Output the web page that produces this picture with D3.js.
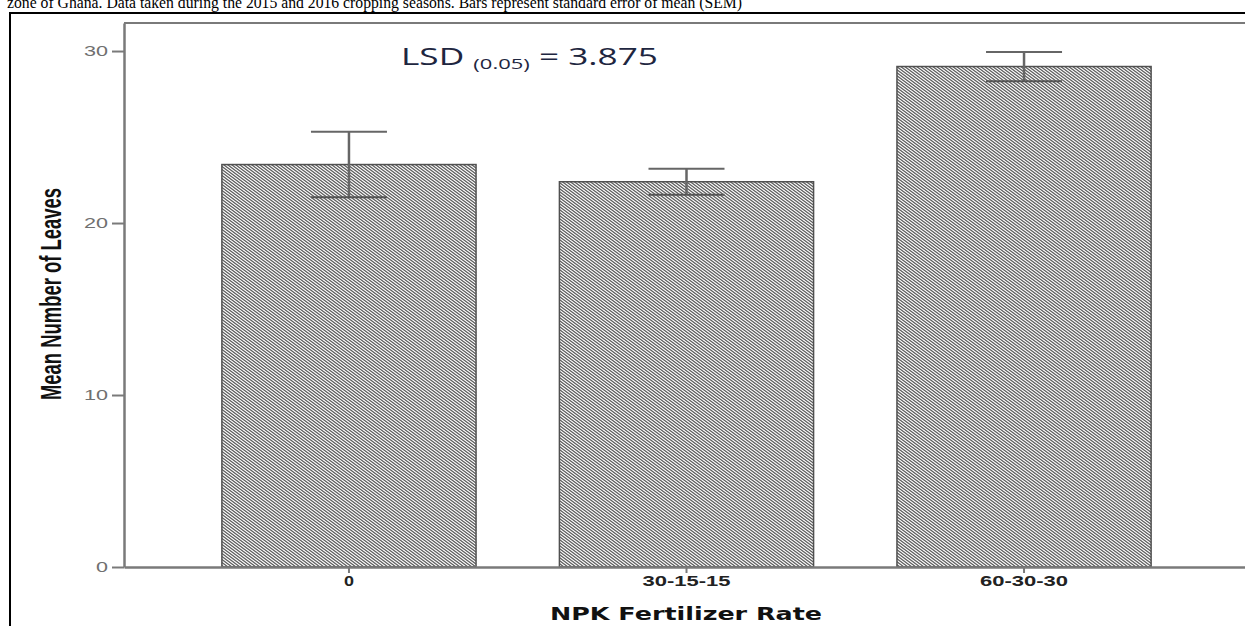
<!DOCTYPE html>
<html>
<head>
<meta charset="utf-8">
<script src="https://cdn.jsdelivr.net/npm/d3@7"></script>
<style>
  html, body { margin: 0; padding: 0; background: #fff; }
  svg { display: block; }
</style>
</head>
<body>
<div class="chart"></div>
<script>
// data
var categories = ['0', '30-15-15', '60-30-30'];
var means = [23.4, 22.4, 29.1];
var sem = [1.9, 0.75, 0.85];
var yTicks = [0, 10, 20, 30];
var caption = 'zone of Ghana. Data taken during the 2015 and 2016 cropping seasons. Bars represent standard error of mean (SEM)';

var rows = categories.map(function(c, i) {
	return { cat: c, mean: means[i], se: sem[i] };
});

// options
var width = 1245,
	height = 626;
var axisColor = '#7a7a7a',
	barStroke = '#505050',
	hatchColor = '#5c5c5c';
var plot = { left: 124, right: 1249, top: 23, bottom: 567 };

var svg = d3.select('.chart')
	.append('svg')
	.attr('width', width)
	.attr('height', height);

// hatch: lines y = 0.75x + 3k inside a 4x3 tile
var pattern = svg.append('defs').append('pattern')
	.attr('id', 'hatch')
	.attr('patternUnits', 'userSpaceOnUse')
	.attr('width', 4)
	.attr('height', 3);
pattern.append('rect').attr('width', 4).attr('height', 3).attr('fill', '#fff');
pattern.append('path')
	.attr('d', 'M-2,-4.5 L6,1.5 M-2,-1.5 L6,4.5 M-2,1.5 L6,7.5')
	.attr('stroke', hatchColor)
	.attr('stroke-width', 1.3)
	.attr('fill', 'none');

// caption (cut at top) and outer frame
svg.append('text')
	.attr('x', 7)
	.attr('y', 8)
	.attr('textLength', 735)
	.attr('lengthAdjust', 'spacingAndGlyphs')
	.style('font-family', '"Liberation Serif", "Times New Roman", serif')
	.style('font-size', '16px')
	.attr('fill', '#000')
	.text(caption);

svg.append('line')
	.attr('x1', 10).attr('y1', 13).attr('x2', width).attr('y2', 13)
	.attr('stroke', '#000').attr('stroke-width', 2);
svg.append('line')
	.attr('x1', 10).attr('y1', 12).attr('x2', 10).attr('y2', height)
	.attr('stroke', '#000').attr('stroke-width', 2);

// scales
var x = d3.scaleBand()
	.domain(categories)
	.range([plot.left, plot.right])
	.paddingInner(0.247)
	.paddingOuter(0.29);

var y = d3.scaleLinear()
	.domain([0, 31.63])
	.range([plot.bottom, plot.top]);

// top frame line
svg.append('line')
	.attr('x1', plot.left).attr('y1', y(31.63))
	.attr('x2', plot.right).attr('y2', y(31.63))
	.attr('stroke', axisColor).attr('stroke-width', 2);

// bars
svg.append('g').attr('class', 'bars').selectAll('rect')
	.data(rows)
	.enter()
		.append('rect')
		.attr('x', function(d) { return x(d.cat); })
		.attr('y', function(d) { return y(d.mean); })
		.attr('width', x.bandwidth())
		.attr('height', function(d) { return y(0) - y(d.mean); })
		.attr('fill', 'url(#hatch)')
		.attr('stroke', barStroke)
		.attr('stroke-width', 1.5);

// error bars
var capHalf = 38;
var err = svg.append('g').attr('class', 'err').selectAll('g')
	.data(rows)
	.enter()
		.append('g')
		.attr('transform', function(d) { return 'translate(' + (x(d.cat) + x.bandwidth() / 2) + ',0)'; });

err.append('line')
	.attr('x1', 0).attr('x2', 0)
	.attr('y1', function(d) { return y(d.mean + d.se); })
	.attr('y2', function(d) { return y(d.mean - d.se); })
	.attr('stroke', '#666').attr('stroke-width', 2.5);
err.append('line')
	.attr('x1', -capHalf).attr('x2', capHalf)
	.attr('y1', function(d) { return y(d.mean + d.se); })
	.attr('y2', function(d) { return y(d.mean + d.se); })
	.attr('stroke', '#666').attr('stroke-width', 2);
err.append('line')
	.attr('x1', -capHalf).attr('x2', capHalf)
	.attr('y1', function(d) { return y(d.mean - d.se); })
	.attr('y2', function(d) { return y(d.mean - d.se); })
	.attr('stroke', '#555').attr('stroke-width', 2);

// axes
var yAxis = svg.append('g')
	.attr('transform', 'translate(' + plot.left + ',0)')
	.call(d3.axisLeft(y).tickValues(yTicks).tickSize(12).tickSizeOuter(0).tickPadding(4).tickFormat(d3.format('d')));

var xAxis = svg.append('g')
	.attr('transform', 'translate(0,' + plot.bottom + ')')
	.call(d3.axisBottom(x).tickSize(6).tickSizeOuter(0));

[yAxis, xAxis].forEach(function(a) {
	a.select('.domain').attr('stroke', axisColor).attr('stroke-width', 2.5);
	a.selectAll('.tick line').attr('stroke', axisColor).attr('stroke-width', 2);
});

yAxis.selectAll('.tick text')
	.attr('fill', '#707070')
	.style('font-family', '"Liberation Sans", Arial, sans-serif')
	.style('font-size', '14px')
	.attr('textLength', function(d) { return String(d).length * 12; })
	.attr('lengthAdjust', 'spacingAndGlyphs');

var xTickWidth = { '0': 10, '30-15-15': 88, '60-30-30': 88 };
xAxis.selectAll('.tick text')
	.attr('fill', '#222')
	.style('font-family', '"Liberation Sans", Arial, sans-serif')
	.style('font-size', '14px')
	.style('font-weight', 'bold')
	.attr('textLength', function(d) { return xTickWidth[d]; })
	.attr('lengthAdjust', 'spacingAndGlyphs');

// axis titles
svg.append('text')
	.attr('x', 686)
	.attr('y', 620)
	.attr('text-anchor', 'middle')
	.attr('textLength', 272)
	.attr('lengthAdjust', 'spacingAndGlyphs')
	.style('font-family', '"DejaVu Sans", Verdana, sans-serif')
	.style('font-size', '18px')
	.style('font-weight', 'bold')
	.attr('fill', '#111')
	.text('NPK Fertilizer Rate');

svg.append('text')
	.attr('transform', 'translate(61,294) rotate(-90)')
	.attr('text-anchor', 'middle')
	.attr('textLength', 212)
	.attr('lengthAdjust', 'spacingAndGlyphs')
	.style('font-family', '"Liberation Sans", Arial, sans-serif')
	.style('font-size', '30px')
	.style('font-weight', 'bold')
	.attr('fill', '#111')
	.text('Mean Number of Leaves');

// LSD note
var lsd = svg.append('text')
	.attr('x', 0)
	.attr('y', 0)
	.style('font-family', '"Open Sans", "DejaVu Sans", sans-serif')
	.attr('fill', '#1e2640');
lsd.append('tspan').style('font-size', '24px').text('LSD ');
lsd.append('tspan').style('font-size', '15px').attr('dy', 4).text('(0.05)');
lsd.append('tspan').style('font-size', '24px').attr('dy', -4).text(' = 3.875');
var lsdW = lsd.node().getBBox().width;
lsd.attr('transform', 'translate(401,65) scale(' + (257 / lsdW) + ',1)');
</script>
</body>
</html>
